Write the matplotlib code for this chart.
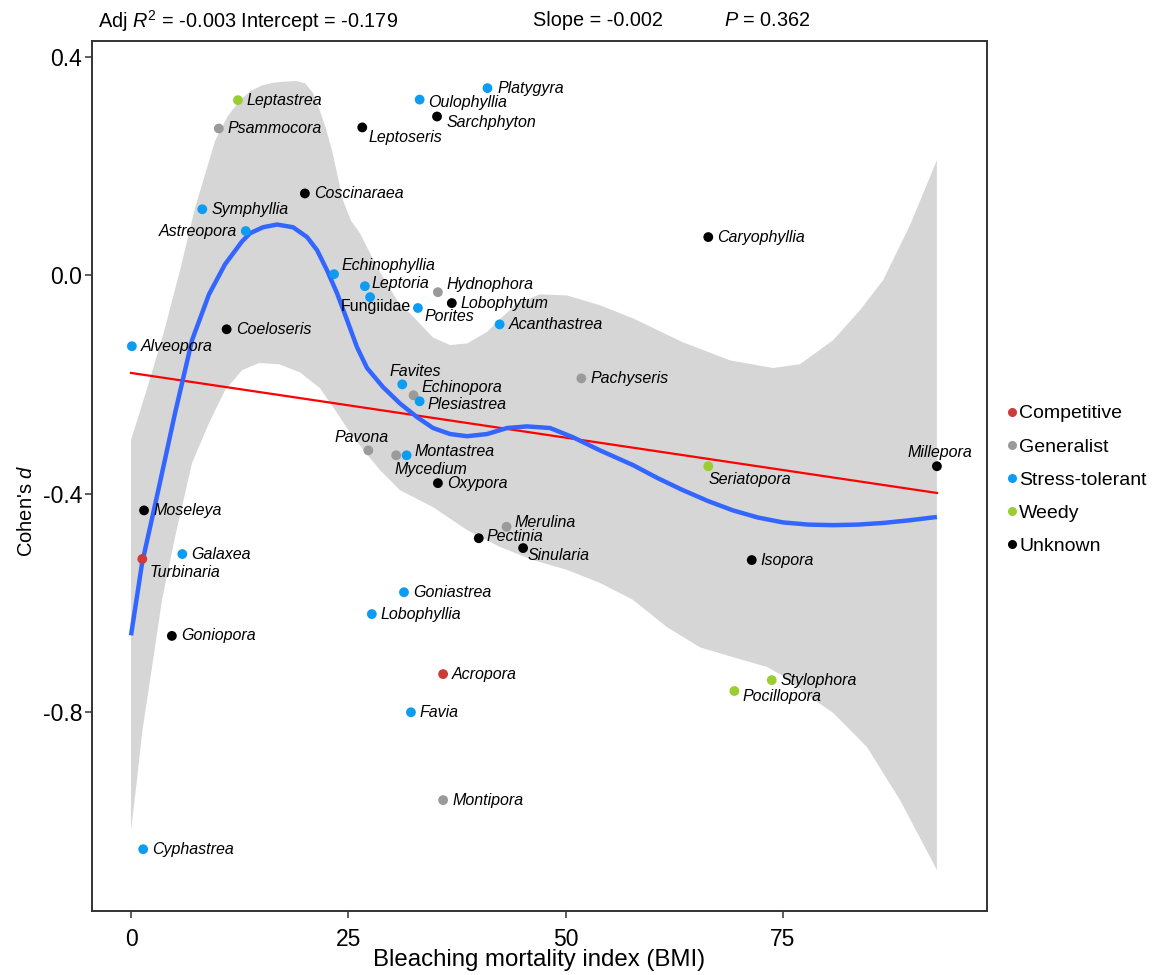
import numpy as np
import matplotlib
matplotlib.use("Agg")
import matplotlib.pyplot as plt
from matplotlib.lines import Line2D

plt.rcParams['font.family'] = ['Liberation Sans', 'DejaVu Sans']
plt.rcParams['mathtext.fontset'] = 'custom'
plt.rcParams['mathtext.rm'] = 'Liberation Sans'
plt.rcParams['mathtext.it'] = 'Liberation Sans:italic'

######## Data ###################################

genera = ['Leptastrea', 'Psammocora', 'Oulophyllia', 'Platygyra', 'Sarchphyton',
          'Leptoseris', 'Coscinaraea', 'Symphyllia', 'Astreopora', 'Caryophyllia',
          'Echinophyllia', 'Hydnophora', 'Leptoria', 'Fungiidae', 'Lobophytum',
          'Porites', 'Acanthastrea', 'Coeloseris', 'Alveopora', 'Pachyseris',
          'Favites', 'Echinopora', 'Plesiastrea', 'Pavona', 'Mycedium',
          'Montastrea', 'Oxypora', 'Seriatopora', 'Millepora', 'Moseleya',
          'Merulina', 'Pectinia', 'Sinularia', 'Turbinaria', 'Galaxea',
          'Isopora', 'Goniastrea', 'Lobophyllia', 'Goniopora', 'Acropora',
          'Stylophora', 'Pocillopora', 'Favia', 'Montipora', 'Cyphastrea']
bmi = [12.3, 10.1, 33.2, 41.0, 35.2,
       26.6, 20.0, 8.2, 13.2, 66.4,
       23.35, 35.3, 26.9, 27.5, 36.9,
       33.0, 42.4, 11.0, 0.1, 51.8,
       31.2, 32.5, 33.2, 27.3, 30.5,
       31.7, 35.3, 66.4, 92.7, 1.5,
       43.2, 40.0, 45.1, 1.3, 5.9,
       71.4, 31.4, 27.7, 4.7, 35.9,
       73.7, 69.4, 32.2, 35.9, 1.4]
cohens_d = [0.321, 0.269, 0.322, 0.343, 0.291,
            0.271, 0.150, 0.121, 0.081, 0.070,
            0.002, -0.031, -0.020, -0.040, -0.051,
            -0.060, -0.090, -0.099, -0.130, -0.189,
            -0.200, -0.220, -0.231, -0.321, -0.330,
            -0.330, -0.381, -0.350, -0.350, -0.431,
            -0.461, -0.482, -0.500, -0.520, -0.511,
            -0.522, -0.581, -0.621, -0.661, -0.731,
            -0.742, -0.762, -0.801, -0.962, -1.052]
strategy = ['Weedy', 'Generalist', 'Stress-tolerant', 'Stress-tolerant', 'Unknown',
            'Unknown', 'Unknown', 'Stress-tolerant', 'Stress-tolerant', 'Unknown',
            'Stress-tolerant', 'Generalist', 'Stress-tolerant', 'Stress-tolerant', 'Unknown',
            'Stress-tolerant', 'Stress-tolerant', 'Unknown', 'Stress-tolerant', 'Generalist',
            'Stress-tolerant', 'Generalist', 'Stress-tolerant', 'Generalist', 'Generalist',
            'Stress-tolerant', 'Unknown', 'Weedy', 'Unknown', 'Unknown',
            'Generalist', 'Unknown', 'Unknown', 'Competitive', 'Stress-tolerant',
            'Unknown', 'Stress-tolerant', 'Stress-tolerant', 'Unknown', 'Competitive',
            'Weedy', 'Weedy', 'Stress-tolerant', 'Generalist', 'Stress-tolerant']

# smoother
smooth_x = [0.0, 1.27, 3.22, 5.06, 7.02, 8.97, 10.81, 12.77, 13.69, 15.18,
            16.80, 18.64, 20.25, 21.40, 22.55, 23.70, 24.85, 26.00, 27.15, 28.99,
            30.94, 32.90, 34.74, 36.7, 38.65, 40.95, 43.25, 45.55, 48.20, 50.85, 53.95,
            57.75, 60.6, 63.50, 66.4, 69.25, 72.1, 75.00, 77.9, 80.76, 83.6, 86.51,
            89.6, 92.7]
smooth_y = [-0.660, -0.528, -0.388, -0.253, -0.119, -0.035, 0.020, 0.062, 0.077, 0.088,
            0.093, 0.088, 0.070, 0.046, 0.009, -0.033, -0.082, -0.132, -0.170, -0.205,
            -0.235, -0.260, -0.280, -0.291, -0.295, -0.291, -0.280, -0.277, -0.280, -0.297,
            -0.321, -0.348, -0.372, -0.394, -0.414, -0.431, -0.444, -0.453, -0.457, -0.458,
            -0.457, -0.454, -0.449, -0.443]

# confidence band, upper edge
band_up_x = [0.0, 1.96, 3.80, 5.64, 7.36, 9.66, 11.1, 12.54, 13.8, 15.07, 16.4, 17.72,
             19.0, 20.02, 20.9, 21.63, 22.4, 23.12, 24.39, 25.3, 26.34, 28.30, 30.60,
             32.10, 34.74, 36.70, 38.65, 40.95, 42.45, 44.40, 47.05, 50.16, 53.95, 57.75,
             63.50, 68.91, 73.85, 76.96, 80.76, 83.86, 86.51, 89.61, 92.7]
band_up_y = [-0.302, -0.202, -0.103, 0.009, 0.123, 0.246, 0.291, 0.321, 0.338, 0.348,
             0.353, 0.355, 0.356, 0.352, 0.335, 0.306, 0.27, 0.229, 0.137, 0.100, 0.077,
             0.015, -0.046, -0.070, -0.114, -0.128, -0.125, -0.104, -0.080, -0.052, -0.035,
             -0.037, -0.055, -0.079, -0.123, -0.156, -0.170, -0.163, -0.119, -0.064, -0.009,
             0.092, 0.211]

# confidence band, lower edge
band_lo_x = [0.0, 0.69, 1.27, 2.42, 3.57, 5.06, 7.02, 8.97, 10.81, 12.77,
             14.72, 17.03, 19.44, 21.74, 23.47, 25.19, 26.92, 28.64, 30.94, 34.74,
             38.65, 42.45, 46.24, 50.16, 53.95, 57.75, 61.66, 65.46, 69.25, 73.16,
             75.8, 78.1, 80.76, 84.67, 88.46, 92.7]
band_lo_y = [-1.017, -0.925, -0.839, -0.718, -0.595, -0.480, -0.344, -0.271, -0.211, -0.174,
             -0.161, -0.163, -0.178, -0.207, -0.247, -0.288, -0.324, -0.357, -0.394, -0.425,
             -0.467, -0.498, -0.522, -0.540, -0.564, -0.595, -0.645, -0.682, -0.700, -0.718,
             -0.742, -0.773, -0.802, -0.865, -0.962, -1.090]

# linear fit end points
fit_x = [0.0, 92.7]
fit_y = [-0.179, -0.399]

stats_left = r"Adj $R^2$ = -0.003 Intercept = -0.179"
stats_mid = "Slope = -0.002"
stats_right = r"$P$ = 0.362"

strategies = ['Competitive', 'Generalist', 'Stress-tolerant', 'Weedy', 'Unknown']
colors = {'Competitive': '#CC3A3A', 'Generalist': '#9A9A9A',
          'Stress-tolerant': '#0C9CF2', 'Weedy': '#9ACD32', 'Unknown': '#000000'}

# label placement (offset in points, horizontal alignment)
default_off = (6.5, 0, 'left')
label_off = {
    'Leptoseris': (4.5, -7, 'left'),
    'Astreopora': (-6, 0, 'right'),
    'Echinophyllia': (5.5, 6.5, 'left'),
    'Leptoria': (5, 2, 'left'),
    'Fungiidae': (-21, -7, 'left'),
    'Porites': (5, -6, 'left'),
    'Hydnophora': (6, 5.5, 'left'),
    'Favites': (-9, 9.5, 'left'),
    'Echinopora': (6, 5.5, 'left'),
    'Plesiastrea': (6, -2, 'left'),
    'Pavona': (-24.5, 9.5, 'left'),
    'Mycedium': (-1.5, -10, 'left'),
    'Montastrea': (6, 3, 'left'),
    'Seriatopora': (0, -9.5, 'left'),
    'Millepora': (-21.5, 10, 'left'),
    'Turbinaria': (5.5, -9.5, 'left'),
    'Pectinia': (5.5, 1, 'left'),
    'Sinularia': (3.5, -5, 'left'),
    'Merulina': (6, 3, 'left'),
    'Pocillopora': (6, -4, 'left'),
    'Sarchphyton': (7, -4.5, 'left'),
    'Oulophyllia': (6, -2, 'left'),
    'Platygyra': (7, 0, 'left'),
}

######## Plot ##############

fig = plt.figure(figsize=(11.53, 9.75), dpi=100)
ax = fig.add_axes([0.0798, 0.0656, 0.7763, 0.8923])

# ribbon as one closed outline: upper edge left->right, lower edge right->left
ribbon_x = list(band_up_x) + list(band_lo_x[::-1])
ribbon_y = list(band_up_y) + list(band_lo_y[::-1])
ax.fill(ribbon_x, ribbon_y, color='#D6D6D6', lw=0, zorder=1)

ax.plot(fit_x, fit_y, color='#FF0000', lw=1.6, zorder=2)
ax.plot(smooth_x, smooth_y, color='#3366FF', lw=3.2, zorder=3,
        solid_capstyle='butt', solid_joinstyle='round')

pt_colors = [colors[s] for s in strategy]
ax.scatter(bmi, cohens_d, s=50, c=pt_colors, lw=0, zorder=4)

for g, x, y in zip(genera, bmi, cohens_d):
    dx, dy, ha = label_off.get(g, default_off)
    style = 'normal' if g == 'Fungiidae' else 'italic'
    ax.annotate(g, (x, y), xytext=(dx, dy), textcoords='offset points',
                ha=ha, va='center', fontsize=11.5, fontstyle=style, zorder=5)

ax.set_xlim(-4.486, 98.47)
ax.set_ylim(-1.1653, 0.4293)
ax.set_xticks([0, 25, 50, 75])
ax.set_yticks([0.4, 0.0, -0.4, -0.8])
ax.set_yticklabels(['0.4', '0.0', '-0.4', '-0.8'])
ax.tick_params(axis='both', length=5, width=1.1, color='#333333',
               labelsize=16.5, labelcolor='black')
ax.tick_params(axis='x', pad=7)
ax.tick_params(axis='y', pad=2)
for sp in ax.spines.values():
    sp.set_color('#333333')
    sp.set_linewidth(1.4)

ax.set_xlabel('Bleaching mortality index (BMI)', fontsize=17.3, labelpad=-1)
ax.set_ylabel(r"Cohen's $d$", fontsize=14.5)
ax.yaxis.set_label_coords(-0.063, 0.46)

fig.text(98 / 1153, 1 - 21 / 975, stats_left, fontsize=14.3, va='center', ha='left')
fig.text(533 / 1153, 1 - 21 / 975, stats_mid, fontsize=14.3, va='center', ha='left')
fig.text(724 / 1153, 1 - 21 / 975, stats_right, fontsize=14.3, va='center', ha='left')

handles = [Line2D([], [], marker='o', ls='', color=colors[s], markersize=6.5,
                  markeredgewidth=0) for s in strategies]
fig.legend(handles, strategies, loc='center left',
           bbox_to_anchor=(998 / 1153, 1 - 480 / 975), frameon=False,
           fontsize=14, handlelength=0.6, handletextpad=0.1,
           labelspacing=0.8, borderaxespad=0)

fig.savefig('out.png', dpi=100)
